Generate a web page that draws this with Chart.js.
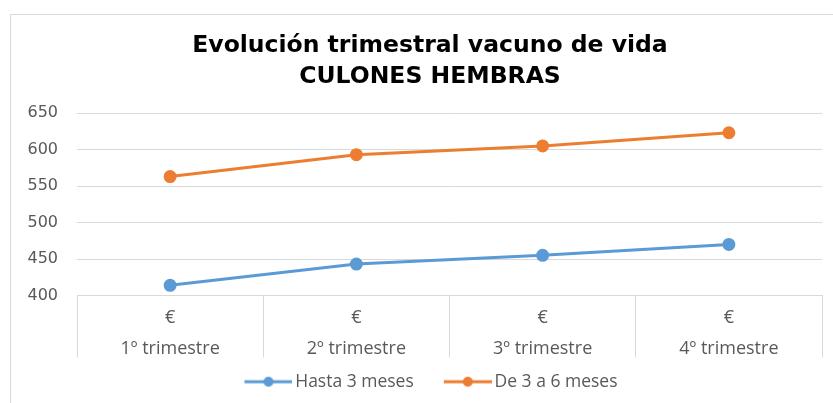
<!DOCTYPE html>
<html>
<head>
<meta charset="utf-8">
<script src="https://cdn.jsdelivr.net/npm/chart.js@4"></script>
<style>
html,body{margin:0;padding:0;background:#fff;overflow:hidden;width:833px;height:403px;}
#frame{position:absolute;left:10px;top:14px;width:900px;height:450px;border:1px solid #d9d9d9;box-sizing:border-box;}
#wrap{position:absolute;left:0;top:0;width:860px;height:403px;}
</style>
</head>
<body>
<div id="frame"></div>
<div id="wrap"><canvas id="c" width="860" height="403"></canvas></div>
<script>
const titleLines = ["Evolución trimestral vacuno de vida", "CULONES HEMBRAS"];
const unitRow = ["€", "€", "€", "€"];
const quarters = ["1º trimestre", "2º trimestre", "3º trimestre", "4º trimestre"];
const seriesNames = ["Hasta 3 meses", "De 3 a 6 meses"];
const hasta3 = [414, 443, 455, 470];
const de3a6 = [563, 593, 605, 623];
const yTicks = [400, 450, 500, 550, 600, 650];

const BLUE = "#5B9BD5", ORANGE = "#ED7D31";

function legendIcon(color){
  const cv = document.createElement("canvas");
  cv.width = 74; cv.height = 12;
  const g = cv.getContext("2d");
  g.strokeStyle = color; g.lineWidth = 3;
  g.beginPath(); g.moveTo(26,6); g.lineTo(74,6); g.stroke();
  g.fillStyle = color;
  g.beginPath(); g.arc(50,6,5,0,Math.PI*2); g.fill();
  return cv;
}
const icons = [legendIcon(BLUE), legendIcon(ORANGE)];

const labels = quarters.map((q,i)=>[unitRow[i], q]);

const legendShift = {
  id: "legendShift",
  afterLayout(chart){ if (chart.legend){ chart.legend.left -= 9; chart.legend.right -= 9; } }
};

new Chart(document.getElementById("c"), {
  type: "line",
  data: {
    labels: labels,
    datasets: [
      {label: seriesNames[0], data: hasta3, borderColor: BLUE, backgroundColor: BLUE, borderWidth: 3, pointRadius: 5, pointHoverRadius: 5, tension: 0},
      {label: seriesNames[1], data: de3a6, borderColor: ORANGE, backgroundColor: ORANGE, borderWidth: 3, pointRadius: 5, pointHoverRadius: 5, tension: 0}
    ]
  },
  plugins: [legendShift],
  options: {
    responsive: false,
    animation: false,
    layout: {padding: {left: 0, right: 0, top: 0, bottom: 2.5}},
    plugins: {
      title: {
        display: true,
        text: titleLines,
        color: "#000",
        font: {family: "'DejaVu Sans'", size: 23.5, weight: "bold", lineHeight: 1.32},
        padding: {top: 30, bottom: 21}
      },
      legend: {
        position: "bottom",
        labels: {
          usePointStyle: true,
          pointStyleWidth: 62,
          color: "#595959",
          font: {family: "'Open Sans'", size: 17.5},
          padding: 10,
          generateLabels: (chart) => chart.data.datasets.map((ds,i)=>({
            text: ds.label, pointStyle: icons[i], fillStyle: ds.borderColor,
            strokeStyle: ds.borderColor, lineWidth: 0, datasetIndex: i, hidden: false, fontColor: "#595959"
          }))
        }
      },
      tooltip: {enabled: false}
    },
    scales: {
      y: {
        min: 400, max: 650,
        afterBuildTicks: (s) => { s.ticks = yTicks.map(v=>({value:v})); },
        afterFit: (s) => { s.width = 77; },
        border: {display: false},
        grid: {color: "#d9d9d9", drawTicks: false, lineWidth: 1},
        ticks: {color: "#595959", font: {family: "'DejaVu Sans'", size: 16}, padding: 19}
      },
      spacer: {
        position: "right",
        display: true,
        grid: {display: false},
        border: {display: false},
        ticks: {display: false},
        afterFit: (s) => { s.width = 38; }
      },
      x: {
        offset: true,
        border: {display: true, color: "#d9d9d9"},
        grid: {offset: true, drawOnChartArea: false, drawTicks: true, tickLength: 62, color: "#d9d9d9"},
        ticks: {color: "#595959", font: {family: "'Open Sans'", size: 18, lineHeight: 1.72}, padding: -55.5, maxRotation: 0, autoSkip: false},
        afterFit: (s) => { s.height = 67.5; }
      }
    }
  }
});
</script>
</body>
</html>
